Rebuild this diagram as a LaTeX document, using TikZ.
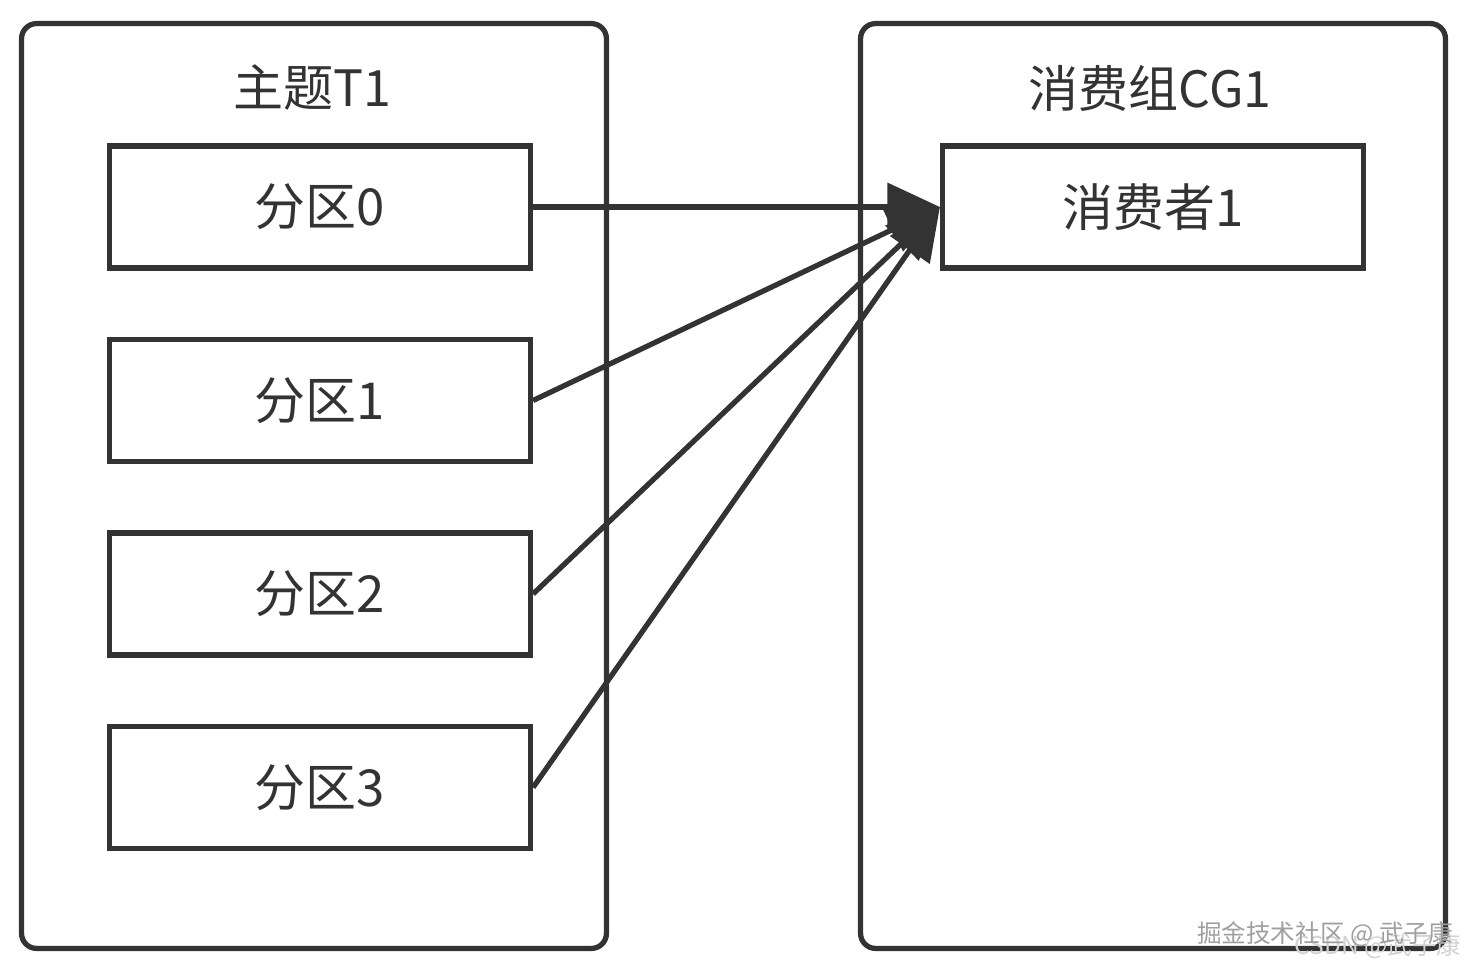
\documentclass[tikz,border=0pt]{standalone}
\usepackage{fontspec}
\setmainfont{Noto Sans CJK SC}
\usetikzlibrary{positioning,arrows.meta}
\definecolor{ink}{HTML}{333333}

\begin{document}
\begin{tikzpicture}[x=0.02cm,y=-0.02cm,node distance=3.87cm,on grid,
    part/.style={draw=ink,line width=3pt,minimum width=8.42cm,minimum height=2.44cm,
      font=\fontsize{29}{34}\selectfont,text=ink},
    group/.style={draw=ink,line width=3pt,rounded corners=0.3cm,minimum width=11.7cm,minimum height=18.5cm},
    title/.style={font=\fontsize{28.5}{34}\selectfont,text=ink}]
    \useasboundingbox (0,0) rectangle (1480,974);

    % outer boxes
    \node[group] (topic) at (314,486) {};
    \node[group] (cg) at (1153,486) {};
    \node[title] (topictitle) at (312,88) {主题T1};
    \node[title] (cgtitle) at (1150,88) {消费组CG1};

    \node[part] (p0) at (320,207) {分区0};
    \node[part] (p1) [below of=p0] {分区1};
    \node[part] (p2) [below of=p1] {分区2};
    \node[part] (p3) [below of=p2] {分区3};
    \node[part] (c1) at (1153,207) {消费者1};

    \path[color=ink,line width=3pt,-{Triangle[length=1.05cm,width=0.95cm]}]
      (p0.east) edge (c1.west)
      (p1.east) edge (c1.west)
      (p2.east) edge (c1.west)
      (p3.east) edge (c1.west);

    % watermark
    \node[font=\fontsize{14}{16}\selectfont,text=gray!35] (csdn) at (1378,946) {CSDN @武子康};
    \node[font=\fontsize{14}{16}\selectfont,text=gray!75] (juejin) at (1325,934) {掘金技术社区 @ 武子康};
  \end{tikzpicture}
\end{document}
